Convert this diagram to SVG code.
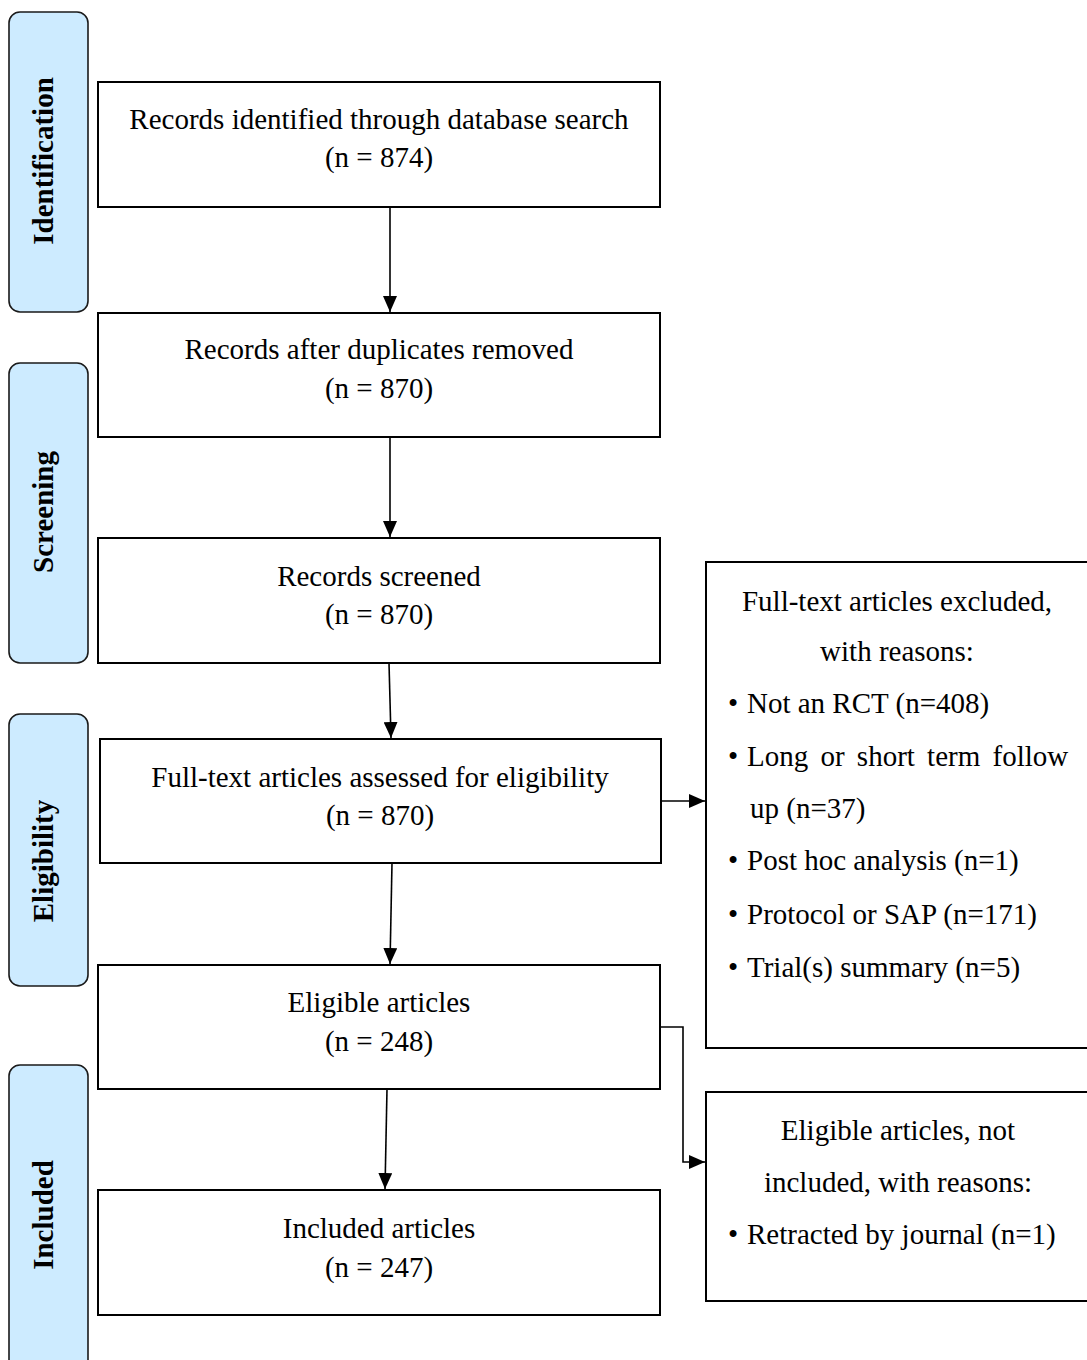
<svg xmlns="http://www.w3.org/2000/svg" width="1087" height="1360" viewBox="0 0 1087 1360">
<style>
.box{fill:#ffffff;stroke:#000000;stroke-width:2}
.side{fill:#cdebff;stroke:#1a1a1a;stroke-width:1.6}
.t{font-family:"Liberation Serif","Times New Roman",serif;font-size:29px;fill:#000000}
.c{text-anchor:middle}
.s{font-family:"Liberation Serif","Times New Roman",serif;font-size:29px;font-weight:bold;fill:#000000;text-anchor:middle}
.ln{fill:none;stroke:#000000;stroke-width:1.6}
</style>
<defs>
<marker id="ah" viewBox="0 0 16 14" refX="16" refY="7" markerWidth="16" markerHeight="14" markerUnits="userSpaceOnUse" orient="auto">
<path d="M0,0 L16,7 L0,14 Z" fill="#000000"/>
</marker>
</defs>
<rect width="1087" height="1360" fill="#ffffff"/>

<g id="stage-identification">
<rect class="side" x="9" y="12" width="79" height="300" rx="11" ry="11"/>
<text class="s" transform="translate(53,161) rotate(-90)">Identification</text>
</g>
<g id="stage-screening">
<rect class="side" x="9" y="363" width="79" height="300" rx="11" ry="11"/>
<text class="s" transform="translate(53,512) rotate(-90)">Screening</text>
</g>
<g id="stage-eligibility">
<rect class="side" x="9" y="714" width="79" height="272" rx="11" ry="11"/>
<text class="s" transform="translate(53,861) rotate(-90)">Eligibility</text>
</g>
<g id="stage-included">
<rect class="side" x="9" y="1065" width="79" height="310" rx="11" ry="11"/>
<text class="s" transform="translate(53,1215) rotate(-90)">Included</text>
</g>

<g id="n-identified">
<rect class="box" x="98" y="82" width="562" height="125"/>
<text class="t c" x="379" y="129">Records identified through database search</text>
<text class="t c" x="379" y="167">(n = 874)</text>
</g>
<g id="n-duplicates">
<rect class="box" x="98" y="313" width="562" height="124"/>
<text class="t c" x="379" y="359">Records after duplicates removed</text>
<text class="t c" x="379" y="398">(n = 870)</text>
</g>
<g id="n-screened">
<rect class="box" x="98" y="538" width="562" height="125"/>
<text class="t c" x="379" y="586">Records screened</text>
<text class="t c" x="379" y="624">(n = 870)</text>
</g>
<g id="n-fulltext">
<rect class="box" x="100" y="739" width="561" height="124"/>
<text class="t c" x="380" y="787">Full-text articles assessed for eligibility</text>
<text class="t c" x="380" y="825">(n = 870)</text>
</g>
<g id="n-eligible">
<rect class="box" x="98" y="965" width="562" height="124"/>
<text class="t c" x="379" y="1012">Eligible articles</text>
<text class="t c" x="379" y="1051">(n = 248)</text>
</g>
<g id="n-included">
<rect class="box" x="98" y="1190" width="562" height="125"/>
<text class="t c" x="379" y="1238">Included articles</text>
<text class="t c" x="379" y="1277">(n = 247)</text>
</g>

<g id="n-excluded">
<rect class="box" x="706" y="562" width="392" height="486"/>
<text class="t c" x="897" y="611">Full-text articles excluded,</text>
<text class="t c" x="897" y="661">with reasons:</text>
<text class="t" x="728" y="713">•</text><text class="t" x="747" y="713">Not an RCT (n=408)</text>
<text class="t" x="728" y="766">•</text><text class="t" x="747" y="766" word-spacing="5">Long or short term follow</text>
<text class="t" x="750" y="818">up (n=37)</text>
<text class="t" x="728" y="870">•</text><text class="t" x="747" y="870">Post hoc analysis (n=1)</text>
<text class="t" x="728" y="924">•</text><text class="t" x="747" y="924">Protocol or SAP (n=171)</text>
<text class="t" x="728" y="977">•</text><text class="t" x="747" y="977">Trial(s) summary (n=5)</text>
</g>
<g id="n-notincluded">
<rect class="box" x="706" y="1092" width="392" height="209"/>
<text class="t c" x="898" y="1140">Eligible articles, not</text>
<text class="t c" x="898" y="1192">included, with reasons:</text>
<text class="t" x="728" y="1244">•</text><text class="t" x="747" y="1244">Retracted by journal (n=1)</text>
</g>

<g id="connectors">
<line class="ln" x1="390" y1="207" x2="390" y2="312" marker-end="url(#ah)"/>
<line class="ln" x1="390" y1="437" x2="390" y2="537" marker-end="url(#ah)"/>
<line class="ln" x1="389" y1="663" x2="391" y2="738" marker-end="url(#ah)"/>
<line class="ln" x1="392" y1="863" x2="390" y2="964" marker-end="url(#ah)"/>
<line class="ln" x1="387" y1="1089" x2="385" y2="1189" marker-end="url(#ah)"/>
<line class="ln" x1="661" y1="801" x2="705" y2="801" marker-end="url(#ah)"/>
<polyline class="ln" points="660,1027 683,1027 683,1162 705,1162" marker-end="url(#ah)"/>
</g>
</svg>
